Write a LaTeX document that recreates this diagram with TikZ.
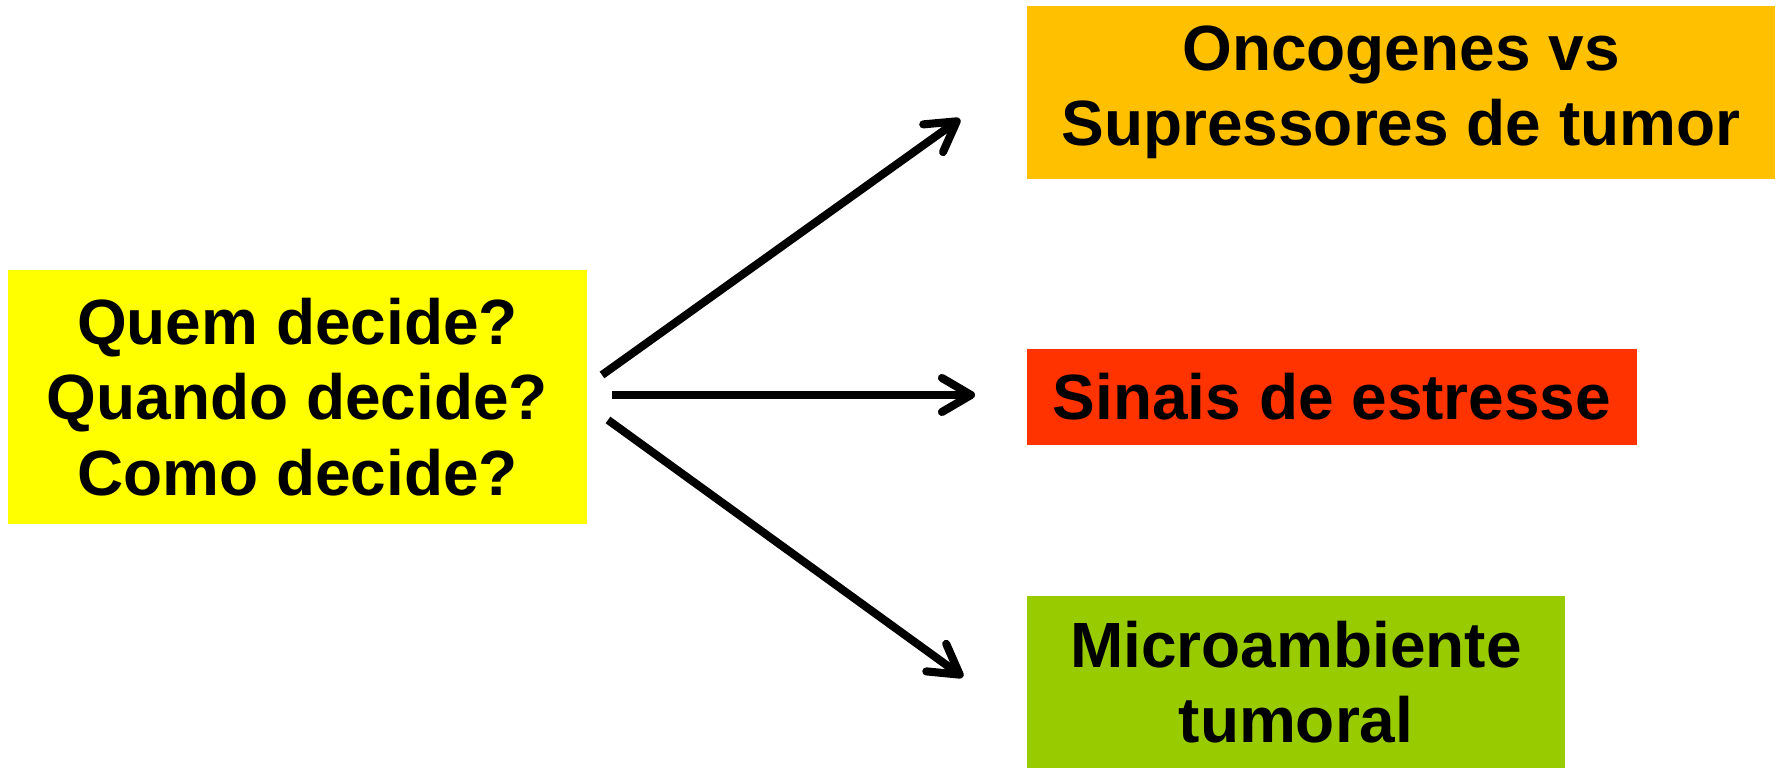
\documentclass[tikz,border=0pt]{standalone}
\usepackage{fontspec}
\setmainfont{Liberation Sans}
\usetikzlibrary{arrows.meta,positioning}
\definecolor{quemyellow}{HTML}{FFFF00}
\definecolor{oncoorange}{HTML}{FFC000}
\definecolor{stressred}{HTML}{FF3300}
\definecolor{microgreen}{HTML}{99CC00}
\tikzset{box/.style={inner sep=0pt,align=center,font=\bfseries\fontsize{18.2}{21.5}\selectfont}}
\tikzset{arr/.style={-{Straight Barb[length=2.9mm,width=3.4mm,round]},line width=2.3pt}}

\begin{document}
\begin{tikzpicture}
        \useasboundingbox (0,0) rectangle (17.81,7.68);

        \node[box,fill=quemyellow,minimum width=5.79cm,minimum height=2.54cm] (quem) at (2.975,3.71) {Quem decide?\\Quando decide?\\Como decide?};
        \node[box,fill=oncoorange,minimum width=7.48cm,minimum height=1.73cm] (onco) at (14.01,6.755) {Oncogenes vs\\Supressores de tumor};
        \node[box,fill=stressred,minimum width=6.10cm,minimum height=0.96cm] (sinais) at (13.32,3.71) {Sinais de estresse};
        \node[box,fill=microgreen,minimum width=5.38cm,minimum height=1.72cm] (micro) at (12.96,0.86) {Microambiente\\tumoral};

        % start and end points of the three arrows
        \coordinate (s1) at (6.02,3.93);
        \coordinate (s2) at (6.12,3.73);
        \coordinate (s3) at (6.08,3.48);
        \coordinate (e1) at (9.60,6.49);
        \coordinate (e2) at (9.75,3.73);
        \coordinate (e3) at (9.63,0.91);

        \draw [arr] (s1) -- (e1);
        \draw [arr] (s2) -- (e2);
        \draw [arr] (s3) -- (e3);
\end{tikzpicture}
\end{document}
